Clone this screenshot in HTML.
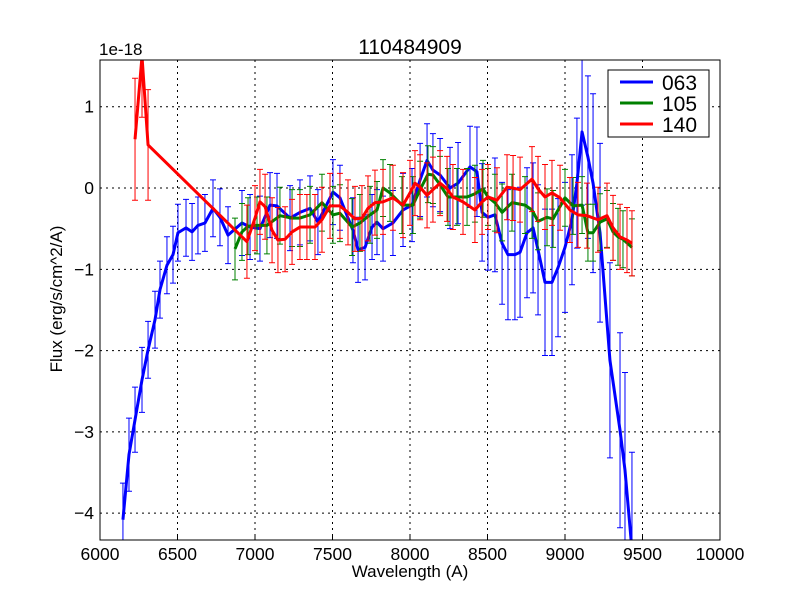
<!DOCTYPE html>
<html><head><meta charset="utf-8"><style>
html,body{margin:0;padding:0;background:#fff;width:800px;height:600px;overflow:hidden;}
svg{display:block;}
svg text{font-family:"Liberation Sans","DejaVu Sans",sans-serif;}
</style></head><body>
<svg id="chart" width="800" height="600" viewBox="0 0 800 600" xmlns="http://www.w3.org/2000/svg">
<rect x="0" y="0" width="800" height="600" fill="#fff"/>
<g id="grid"></g>
<g id="plot"></g>
<rect x="100" y="60" width="620" height="480" fill="none" stroke="#000" stroke-width="1"/>
<g id="ticks"></g>
<text x="410" y="54" font-size="21" text-anchor="middle">110484909</text>
<text x="99" y="55" font-size="17">1e-18</text>
<text x="410" y="577" font-size="17" text-anchor="middle">Wavelength (A)</text>
<text x="62" y="299" font-size="17" text-anchor="middle" transform="rotate(-90 62 299)">Flux (erg/s/cm^2/A)</text>
<g>
<rect x="608" y="70" width="101" height="67" fill="#fff" stroke="#000"/>
<line x1="620" y1="82" x2="653" y2="82" stroke="#0000ff" stroke-width="3"/>
<text x="662" y="90" font-size="21">063</text>
<line x1="620" y1="103" x2="653" y2="103" stroke="#008000" stroke-width="3"/>
<text x="662" y="111" font-size="21">105</text>
<line x1="620" y1="124" x2="653" y2="124" stroke="#ff0000" stroke-width="3"/>
<text x="662" y="132" font-size="21">140</text>
</g>
</svg>
<script>
const xTicks=[6000,6500,7000,7500,8000,8500,9000,9500,10000];
const yTicks=[-4,-3,-2,-1,0,1];
const yTickLabels=["\u22124","\u22123","\u22122","\u22121","0","1"];
const blueW=[6148,6187,6226,6271,6310,6355,6387,6432,6471,6503,6555,6594,6632,6677,6729,6774,6826,6916,6968,7032,7097,7142,7226,7290,7355,7406,7503,7548,7632,7665,7710,7755,7787,7826,7890,7955,8013,8065,8110,8148,8194,8258,8310,8387,8432,8465,8503,8548,8594,8632,8677,8710,8755,8794,8826,8871,8916,8955,9000,9045,9077,9110,9148,9181,9226,9290,9355,9387,9432];
const blueV=[-4.08,-3.28,-2.85,-2.36,-1.99,-1.62,-1.25,-0.95,-0.82,-0.55,-0.49,-0.54,-0.46,-0.43,-0.25,-0.36,-0.58,-0.43,-0.48,-0.5,-0.21,-0.22,-0.37,-0.3,-0.25,-0.42,-0.05,-0.12,-0.52,-0.76,-0.73,-0.48,-0.42,-0.5,-0.43,-0.27,-0.21,0.1,0.34,0.22,0.16,0,0.06,0.26,0.2,-0.3,-0.36,-0.33,-0.68,-0.82,-0.82,-0.79,-0.55,-0.49,-0.76,-1.16,-1.16,-0.98,-0.73,-0.39,0.06,0.69,0.38,0.06,-0.55,-2.12,-2.98,-3.47,-4.45];
const blueE=[0.45,0.45,0.4,0.4,0.35,0.35,0.35,0.35,0.35,0.35,0.35,0.35,0.35,0.35,0.35,0.35,0.35,0.4,0.4,0.4,0.4,0.4,0.4,0.4,0.4,0.4,0.4,0.4,0.4,0.4,0.4,0.4,0.4,0.4,0.4,0.45,0.45,0.45,0.45,0.45,0.45,0.5,0.5,0.5,0.55,0.6,0.65,0.7,0.75,0.8,0.8,0.8,0.8,0.8,0.8,0.9,0.9,0.85,0.8,0.8,0.8,0.9,1.0,1.1,1.1,1.2,1.2,1.2,1.2];
const greenW=[6871,6916,6955,7013,7077,7161,7239,7290,7355,7432,7503,7548,7626,7677,7742,7787,7826,7871,7948,8019,8065,8116,8148,8194,8245,8303,8368,8419,8471,8503,8548,8594,8658,8742,8787,8826,8884,8923,9000,9052,9110,9148,9181,9226,9271,9310,9342,9374,9432];
const greenV=[-0.75,-0.54,-0.47,-0.46,-0.46,-0.34,-0.37,-0.37,-0.33,-0.18,-0.33,-0.31,-0.48,-0.43,-0.33,-0.27,0,-0.06,-0.21,-0.21,-0.02,0.17,0.16,0.04,-0.11,-0.11,-0.11,-0.07,-0.01,-0.11,-0.18,-0.3,-0.18,-0.21,-0.27,-0.41,-0.36,-0.38,-0.12,-0.22,-0.21,-0.55,-0.55,-0.42,-0.38,-0.54,-0.6,-0.63,-0.73];
const greenE=[0.38,0.35,0.35,0.35,0.35,0.35,0.35,0.35,0.35,0.35,0.35,0.35,0.35,0.35,0.35,0.35,0.35,0.35,0.35,0.35,0.35,0.35,0.35,0.35,0.35,0.35,0.35,0.35,0.35,0.35,0.35,0.35,0.35,0.35,0.35,0.35,0.35,0.35,0.35,0.35,0.35,0.35,0.35,0.35,0.35,0.35,0.35,0.35,0.35];
const redW=[6226,6271,6310,6948,7000,7032,7065,7110,7148,7194,7239,7290,7335,7387,7432,7484,7548,7600,7645,7690,7729,7774,7826,7890,7955,8000,8032,8065,8110,8148,8194,8239,8277,8342,8419,8465,8503,8561,8626,8665,8710,8787,8826,8871,8916,8968,9032,9084,9142,9213,9271,9310,9355,9400,9432];
const redV=[0.6,1.62,0.53,-0.66,-0.37,-0.17,-0.23,-0.52,-0.64,-0.63,-0.54,-0.48,-0.48,-0.48,-0.39,-0.22,-0.22,-0.3,-0.38,-0.37,-0.25,-0.18,-0.17,-0.12,-0.21,-0.06,0.06,0.01,-0.09,-0.02,0.06,-0.01,-0.11,-0.17,-0.27,-0.17,-0.11,-0.15,0.01,0,-0.02,0.11,-0.01,-0.11,-0.06,-0.12,-0.27,-0.33,-0.34,-0.39,-0.34,-0.49,-0.6,-0.64,-0.68];
const redE=[0.75,0.75,0.68,0.45,0.4,0.4,0.4,0.4,0.4,0.4,0.4,0.4,0.4,0.4,0.4,0.4,0.4,0.4,0.4,0.4,0.4,0.4,0.4,0.4,0.4,0.4,0.4,0.4,0.4,0.4,0.4,0.4,0.4,0.4,0.4,0.4,0.4,0.4,0.4,0.4,0.4,0.4,0.4,0.4,0.4,0.4,0.4,0.4,0.4,0.4,0.4,0.4,0.4,0.4,0.4];

const NS="http://www.w3.org/2000/svg";
const X0=100,X1=720,Y0=60,Y1=540,XMIN=6000,XMAX=10000,YMIN=-4.33,YMAX=1.575;
function xs(w){return X0+(w-XMIN)/(XMAX-XMIN)*(X1-X0);}
function ys(v){return Y1-(v-YMIN)/(YMAX-YMIN)*(Y1-Y0);}
function mk(tag,attrs,parent){const e=document.createElementNS(NS,tag);for(const k in attrs)e.setAttribute(k,attrs[k]);parent.appendChild(e);return e;}
const grid=document.getElementById('grid'),ticks=document.getElementById('ticks'),plot=document.getElementById('plot');
xTicks.forEach((t,i)=>{const x=xs(t);
 if(i>0&&i<xTicks.length-1){const g=mk('line',{x1:x,y1:Y0,x2:x,y2:Y1,stroke:'#000','stroke-dasharray':'2,4','stroke-width':1},grid);
 
 }
 const tk=mk('line',{x1:x,y1:Y1,x2:x,y2:Y1-4,stroke:'#000'},ticks);
 
 
 const tx=mk('text',{x:x,y:Y1+20,'font-size':17.5,'text-anchor':'middle'},ticks);tx.textContent=t;
 
 });
yTicks.forEach((t,i)=>{const y=ys(t);
 const g=mk('line',{x1:X0,y1:y,x2:X1,y2:y,stroke:'#000','stroke-dasharray':'2,4','stroke-width':1},grid);
 
 
 const tx=mk('text',{x:X0-6,y:y+6,'font-size':17.5,'text-anchor':'end'},ticks);tx.textContent=yTickLabels[i];
 
 });
const clip=mk('clipPath',{id:'pc'},plot);mk('rect',{x:X0,y:Y0,width:X1-X0,height:Y1-Y0},clip);
function series(W,V,E,color,name){
 const g=mk('g',{'clip-path':'url(#pc)'},plot);
 
 
 W.forEach((w,i)=>{const x=xs(w),a=ys(V[i]+E[i]),b=ys(V[i]-E[i]);
  const p=mk('path',{d:`M${x},${a}V${b}M${x-3},${a}H${x+3}M${x-3},${b}H${x+3}`,stroke:color,'stroke-width':1,fill:'none'},g);
  
  });
 const l=mk('polyline',{points:W.map((w,i)=>xs(w)+','+ys(V[i])).join(' '),stroke:color,'stroke-width':3,fill:'none','stroke-linejoin':'round'},g);
 
 }
series(blueW,blueV,blueE,'#0000ff','063');
series(greenW,greenV,greenE,'#008000','105');
series(redW,redV,redE,'#ff0000','140');
</script>
</body></html>
